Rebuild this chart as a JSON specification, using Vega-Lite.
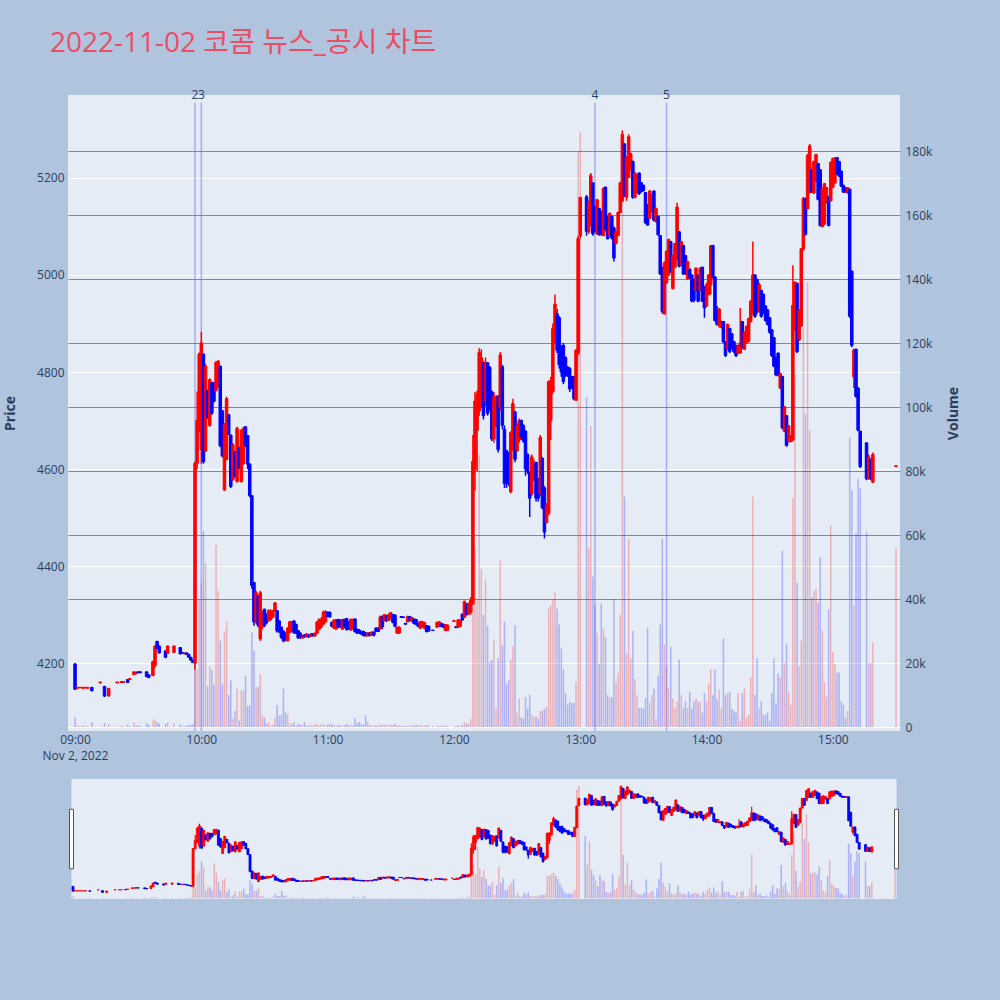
{
  "$schema": "https://vega.github.io/schema/vega-lite/v6.json",
  "background": "#b0c4de",
  "padding": {"left": 3, "top": 30, "right": 40, "bottom": 106},
  "title": {
    "text": "2022-11-02 코콤 뉴스_공시 차트",
    "anchor": "start",
    "frame": "group",
    "font": "Open Sans, Noto Sans CJK KR",
    "fontSize": 28,
    "fontWeight": "normal",
    "color": "#ec4d64",
    "dx": -18,
    "offset": 31
  },
  "config": {
    "view": {"fill": "#e5ecf6", "stroke": null},
    "font": "Open Sans",
    "axis": {
      "domain": false,
      "ticks": false,
      "labelFont": "Open Sans",
      "labelFontSize": 12,
      "labelColor": "#2a3f5f",
      "titleFont": "Open Sans",
      "titleFontSize": 14,
      "titleFontWeight": "bold",
      "titleColor": "#2a3f5f"
    }
  },
  "datasets": {
    "news": [
      {"t": "2022-11-02T09:57", "n": "2"},
      {"t": "2022-11-02T10:00", "n": "3"},
      {"t": "2022-11-02T13:07", "n": "4"},
      {"t": "2022-11-02T13:41", "n": "5"}
    ],
    "k": [
      {"t":"2022-11-02T09:00","o":4198,"h":4200,"l":4145,"c":4146,"v":3000},
      {"t":"2022-11-02T09:01","o":4148,"h":4150,"l":4148,"c":4150,"v":400},
      {"t":"2022-11-02T09:02","o":4149,"h":4150,"l":4149,"c":4150,"v":300},
      {"t":"2022-11-02T09:03","o":4149,"h":4150,"l":4149,"c":4150,"v":300},
      {"t":"2022-11-02T09:04","o":4148,"h":4150,"l":4148,"c":4150,"v":500},
      {"t":"2022-11-02T09:05","o":4149,"h":4150,"l":4149,"c":4150,"v":200},
      {"t":"2022-11-02T09:06","o":4148,"h":4150,"l":4148,"c":4150,"v":300},
      {"t":"2022-11-02T09:08","o":4150,"h":4150,"l":4142,"c":4143,"v":1500},
      {"t":"2022-11-02T09:12","o":4159,"h":4161,"l":4159,"c":4161,"v":300},
      {"t":"2022-11-02T09:14","o":4152,"h":4152,"l":4130,"c":4132,"v":1200},
      {"t":"2022-11-02T09:16","o":4132,"h":4148,"l":4132,"c":4148,"v":900},
      {"t":"2022-11-02T09:20","o":4159,"h":4161,"l":4159,"c":4161,"v":200},
      {"t":"2022-11-02T09:22","o":4160,"h":4162,"l":4160,"c":4162,"v":300},
      {"t":"2022-11-02T09:23","o":4160,"h":4162,"l":4160,"c":4162,"v":200},
      {"t":"2022-11-02T09:25","o":4166,"h":4166,"l":4160,"c":4160,"v":800},
      {"t":"2022-11-02T09:26","o":4166,"h":4168,"l":4166,"c":4168,"v":300},
      {"t":"2022-11-02T09:28","o":4176,"h":4182,"l":4176,"c":4182,"v":1500},
      {"t":"2022-11-02T09:29","o":4178,"h":4182,"l":4178,"c":4181,"v":600},
      {"t":"2022-11-02T09:30","o":4182,"h":4182,"l":4180,"c":4180,"v":400},
      {"t":"2022-11-02T09:31","o":4182,"h":4182,"l":4180,"c":4180,"v":300},
      {"t":"2022-11-02T09:34","o":4182,"h":4182,"l":4172,"c":4172,"v":1200},
      {"t":"2022-11-02T09:35","o":4176,"h":4176,"l":4170,"c":4170,"v":800},
      {"t":"2022-11-02T09:37","o":4174,"h":4205,"l":4174,"c":4203,"v":2000},
      {"t":"2022-11-02T09:38","o":4195,"h":4236,"l":4190,"c":4235,"v":2500},
      {"t":"2022-11-02T09:39","o":4245,"h":4245,"l":4229,"c":4230,"v":1500},
      {"t":"2022-11-02T09:40","o":4235,"h":4236,"l":4220,"c":4221,"v":1200},
      {"t":"2022-11-02T09:43","o":4225,"h":4226,"l":4210,"c":4212,"v":1000},
      {"t":"2022-11-02T09:44","o":4220,"h":4236,"l":4220,"c":4235,"v":1500},
      {"t":"2022-11-02T09:47","o":4222,"h":4236,"l":4222,"c":4235,"v":1200},
      {"t":"2022-11-02T09:50","o":4232,"h":4233,"l":4218,"c":4219,"v":800},
      {"t":"2022-11-02T09:51","o":4222,"h":4222,"l":4220,"c":4220,"v":300},
      {"t":"2022-11-02T09:52","o":4219,"h":4221,"l":4219,"c":4221,"v":300},
      {"t":"2022-11-02T09:53","o":4221,"h":4221,"l":4218,"c":4218,"v":400},
      {"t":"2022-11-02T09:54","o":4218,"h":4218,"l":4212,"c":4212,"v":600},
      {"t":"2022-11-02T09:55","o":4212,"h":4212,"l":4206,"c":4206,"v":700},
      {"t":"2022-11-02T09:56","o":4206,"h":4206,"l":4200,"c":4201,"v":900},
      {"t":"2022-11-02T09:57","o":4200,"h":4616,"l":4186,"c":4612,"v":30000},
      {"t":"2022-11-02T09:58","o":4612,"h":4760,"l":4600,"c":4700,"v":18000},
      {"t":"2022-11-02T09:59","o":4678,"h":4840,"l":4676,"c":4837,"v":40000},
      {"t":"2022-11-02T10:00","o":4640,"h":4883,"l":4611,"c":4860,"v":45000},
      {"t":"2022-11-02T10:01","o":4837,"h":4838,"l":4611,"c":4615,"v":61400},
      {"t":"2022-11-02T10:02","o":4637,"h":4816,"l":4635,"c":4812,"v":51300},
      {"t":"2022-11-02T10:03","o":4762,"h":4764,"l":4703,"c":4706,"v":12700},
      {"t":"2022-11-02T10:04","o":4690,"h":4787,"l":4687,"c":4784,"v":19000},
      {"t":"2022-11-02T10:05","o":4778,"h":4780,"l":4712,"c":4715,"v":17700},
      {"t":"2022-11-02T10:06","o":4778,"h":4779,"l":4737,"c":4740,"v":13300},
      {"t":"2022-11-02T10:07","o":4762,"h":4822,"l":4760,"c":4820,"v":57000},
      {"t":"2022-11-02T10:08","o":4770,"h":4825,"l":4768,"c":4822,"v":42400},
      {"t":"2022-11-02T10:09","o":4812,"h":4813,"l":4645,"c":4648,"v":27000},
      {"t":"2022-11-02T10:10","o":4720,"h":4721,"l":4624,"c":4627,"v":13300},
      {"t":"2022-11-02T10:11","o":4557,"h":4695,"l":4555,"c":4692,"v":29800},
      {"t":"2022-11-02T10:12","o":4620,"h":4749,"l":4618,"c":4745,"v":33000},
      {"t":"2022-11-02T10:13","o":4712,"h":4713,"l":4670,"c":4672,"v":10000},
      {"t":"2022-11-02T10:14","o":4670,"h":4671,"l":4561,"c":4564,"v":14600},
      {"t":"2022-11-02T10:15","o":4578,"h":4653,"l":4576,"c":4650,"v":2600},
      {"t":"2022-11-02T10:16","o":4636,"h":4637,"l":4582,"c":4585,"v":5000},
      {"t":"2022-11-02T10:17","o":4574,"h":4687,"l":4572,"c":4684,"v":12000},
      {"t":"2022-11-02T10:18","o":4645,"h":4646,"l":4599,"c":4602,"v":2000},
      {"t":"2022-11-02T10:19","o":4574,"h":4682,"l":4572,"c":4680,"v":11400},
      {"t":"2022-11-02T10:20","o":4611,"h":4687,"l":4609,"c":4684,"v":11400},
      {"t":"2022-11-02T10:21","o":4687,"h":4688,"l":4645,"c":4648,"v":15900},
      {"t":"2022-11-02T10:22","o":4669,"h":4670,"l":4600,"c":4610,"v":6700},
      {"t":"2022-11-02T10:23","o":4610,"h":4612,"l":4542,"c":4545,"v":6700},
      {"t":"2022-11-02T10:24","o":4545,"h":4546,"l":4353,"c":4360,"v":29600},
      {"t":"2022-11-02T10:25","o":4366,"h":4367,"l":4277,"c":4285,"v":23900},
      {"t":"2022-11-02T10:26","o":4285,"h":4349,"l":4281,"c":4345,"v":12400},
      {"t":"2022-11-02T10:27","o":4339,"h":4340,"l":4274,"c":4278,"v":12400},
      {"t":"2022-11-02T10:28","o":4250,"h":4349,"l":4246,"c":4345,"v":16600},
      {"t":"2022-11-02T10:29","o":4275,"h":4308,"l":4270,"c":4305,"v":3500},
      {"t":"2022-11-02T10:30","o":4311,"h":4312,"l":4274,"c":4278,"v":3000},
      {"t":"2022-11-02T10:31","o":4300,"h":4302,"l":4280,"c":4284,"v":1000},
      {"t":"2022-11-02T10:32","o":4287,"h":4311,"l":4286,"c":4308,"v":1500},
      {"t":"2022-11-02T10:33","o":4290,"h":4311,"l":4288,"c":4306,"v":400},
      {"t":"2022-11-02T10:34","o":4295,"h":4310,"l":4293,"c":4308,"v":800},
      {"t":"2022-11-02T10:35","o":4308,"h":4326,"l":4307,"c":4324,"v":3000},
      {"t":"2022-11-02T10:36","o":4308,"h":4309,"l":4263,"c":4266,"v":6900},
      {"t":"2022-11-02T10:37","o":4287,"h":4288,"l":4262,"c":4265,"v":3500},
      {"t":"2022-11-02T10:38","o":4274,"h":4275,"l":4250,"c":4253,"v":3800},
      {"t":"2022-11-02T10:39","o":4266,"h":4267,"l":4243,"c":4246,"v":12000},
      {"t":"2022-11-02T10:40","o":4262,"h":4263,"l":4245,"c":4248,"v":4600},
      {"t":"2022-11-02T10:41","o":4246,"h":4274,"l":4245,"c":4272,"v":4000},
      {"t":"2022-11-02T10:42","o":4263,"h":4287,"l":4262,"c":4285,"v":1000},
      {"t":"2022-11-02T10:43","o":4265,"h":4287,"l":4264,"c":4284,"v":1000},
      {"t":"2022-11-02T10:44","o":4287,"h":4288,"l":4260,"c":4263,"v":1500},
      {"t":"2022-11-02T10:45","o":4280,"h":4281,"l":4260,"c":4262,"v":400},
      {"t":"2022-11-02T10:46","o":4267,"h":4268,"l":4250,"c":4252,"v":1000},
      {"t":"2022-11-02T10:47","o":4262,"h":4263,"l":4250,"c":4253,"v":800},
      {"t":"2022-11-02T10:48","o":4252,"h":4258,"l":4250,"c":4256,"v":600},
      {"t":"2022-11-02T10:49","o":4258,"h":4260,"l":4252,"c":4254,"v":1500},
      {"t":"2022-11-02T10:50","o":4254,"h":4262,"l":4253,"c":4260,"v":500},
      {"t":"2022-11-02T10:51","o":4258,"h":4260,"l":4252,"c":4254,"v":400},
      {"t":"2022-11-02T10:52","o":4256,"h":4262,"l":4254,"c":4260,"v":700},
      {"t":"2022-11-02T10:53","o":4260,"h":4262,"l":4255,"c":4256,"v":400},
      {"t":"2022-11-02T10:54","o":4256,"h":4263,"l":4255,"c":4262,"v":1000},
      {"t":"2022-11-02T10:55","o":4262,"h":4287,"l":4260,"c":4285,"v":900},
      {"t":"2022-11-02T10:56","o":4270,"h":4292,"l":4268,"c":4290,"v":400},
      {"t":"2022-11-02T10:57","o":4275,"h":4295,"l":4272,"c":4290,"v":800},
      {"t":"2022-11-02T10:58","o":4280,"h":4308,"l":4280,"c":4305,"v":1000},
      {"t":"2022-11-02T10:59","o":4285,"h":4309,"l":4283,"c":4306,"v":400},
      {"t":"2022-11-02T11:00","o":4305,"h":4306,"l":4294,"c":4296,"v":700},
      {"t":"2022-11-02T11:01","o":4305,"h":4306,"l":4294,"c":4295,"v":1000},
      {"t":"2022-11-02T11:02","o":4284,"h":4285,"l":4274,"c":4276,"v":800},
      {"t":"2022-11-02T11:03","o":4272,"h":4291,"l":4270,"c":4288,"v":600},
      {"t":"2022-11-02T11:04","o":4270,"h":4291,"l":4270,"c":4289,"v":500},
      {"t":"2022-11-02T11:05","o":4290,"h":4291,"l":4272,"c":4274,"v":700},
      {"t":"2022-11-02T11:06","o":4288,"h":4290,"l":4273,"c":4275,"v":400},
      {"t":"2022-11-02T11:07","o":4270,"h":4291,"l":4268,"c":4290,"v":500},
      {"t":"2022-11-02T11:08","o":4290,"h":4291,"l":4272,"c":4275,"v":600},
      {"t":"2022-11-02T11:09","o":4292,"h":4293,"l":4267,"c":4270,"v":1000},
      {"t":"2022-11-02T11:10","o":4285,"h":4286,"l":4268,"c":4270,"v":500},
      {"t":"2022-11-02T11:11","o":4268,"h":4292,"l":4268,"c":4290,"v":700},
      {"t":"2022-11-02T11:12","o":4270,"h":4292,"l":4270,"c":4288,"v":500},
      {"t":"2022-11-02T11:13","o":4291,"h":4291,"l":4263,"c":4265,"v":2700},
      {"t":"2022-11-02T11:14","o":4270,"h":4271,"l":4260,"c":4262,"v":1200},
      {"t":"2022-11-02T11:15","o":4268,"h":4270,"l":4260,"c":4262,"v":1500},
      {"t":"2022-11-02T11:16","o":4265,"h":4267,"l":4258,"c":4260,"v":1000},
      {"t":"2022-11-02T11:17","o":4265,"h":4267,"l":4255,"c":4257,"v":800},
      {"t":"2022-11-02T11:18","o":4262,"h":4264,"l":4255,"c":4256,"v":3700},
      {"t":"2022-11-02T11:19","o":4256,"h":4264,"l":4255,"c":4262,"v":1800},
      {"t":"2022-11-02T11:20","o":4262,"h":4264,"l":4255,"c":4257,"v":600},
      {"t":"2022-11-02T11:21","o":4257,"h":4265,"l":4256,"c":4264,"v":500},
      {"t":"2022-11-02T11:22","o":4264,"h":4265,"l":4255,"c":4258,"v":400},
      {"t":"2022-11-02T11:23","o":4272,"h":4274,"l":4264,"c":4266,"v":500},
      {"t":"2022-11-02T11:24","o":4272,"h":4274,"l":4264,"c":4265,"v":400},
      {"t":"2022-11-02T11:25","o":4270,"h":4298,"l":4270,"c":4295,"v":800},
      {"t":"2022-11-02T11:26","o":4296,"h":4298,"l":4270,"c":4275,"v":600},
      {"t":"2022-11-02T11:27","o":4287,"h":4301,"l":4286,"c":4300,"v":700},
      {"t":"2022-11-02T11:28","o":4298,"h":4299,"l":4285,"c":4287,"v":500},
      {"t":"2022-11-02T11:29","o":4288,"h":4302,"l":4287,"c":4300,"v":600},
      {"t":"2022-11-02T11:30","o":4291,"h":4305,"l":4290,"c":4304,"v":800},
      {"t":"2022-11-02T11:31","o":4300,"h":4301,"l":4282,"c":4284,"v":500},
      {"t":"2022-11-02T11:32","o":4299,"h":4300,"l":4274,"c":4276,"v":900},
      {"t":"2022-11-02T11:33","o":4262,"h":4275,"l":4260,"c":4274,"v":600},
      {"t":"2022-11-02T11:34","o":4262,"h":4276,"l":4260,"c":4274,"v":500},
      {"t":"2022-11-02T11:35","o":4296,"h":4296,"l":4294,"c":4294,"v":300},
      {"t":"2022-11-02T11:36","o":4295,"h":4296,"l":4294,"c":4294,"v":300},
      {"t":"2022-11-02T11:37","o":4282,"h":4282,"l":4280,"c":4280,"v":200},
      {"t":"2022-11-02T11:38","o":4285,"h":4298,"l":4284,"c":4296,"v":500},
      {"t":"2022-11-02T11:39","o":4296,"h":4297,"l":4286,"c":4288,"v":400},
      {"t":"2022-11-02T11:40","o":4286,"h":4295,"l":4285,"c":4294,"v":400},
      {"t":"2022-11-02T11:41","o":4291,"h":4291,"l":4280,"c":4282,"v":500},
      {"t":"2022-11-02T11:42","o":4290,"h":4291,"l":4278,"c":4280,"v":600},
      {"t":"2022-11-02T11:43","o":4282,"h":4283,"l":4274,"c":4276,"v":400},
      {"t":"2022-11-02T11:44","o":4272,"h":4287,"l":4270,"c":4286,"v":600},
      {"t":"2022-11-02T11:45","o":4275,"h":4287,"l":4274,"c":4285,"v":500},
      {"t":"2022-11-02T11:46","o":4272,"h":4285,"l":4270,"c":4284,"v":400},
      {"t":"2022-11-02T11:47","o":4277,"h":4278,"l":4263,"c":4265,"v":700},
      {"t":"2022-11-02T11:48","o":4276,"h":4277,"l":4265,"c":4266,"v":300},
      {"t":"2022-11-02T11:50","o":4268,"h":4268,"l":4266,"c":4267,"v":200},
      {"t":"2022-11-02T11:52","o":4274,"h":4285,"l":4274,"c":4284,"v":400},
      {"t":"2022-11-02T11:53","o":4276,"h":4286,"l":4275,"c":4285,"v":300},
      {"t":"2022-11-02T11:54","o":4282,"h":4283,"l":4274,"c":4276,"v":400},
      {"t":"2022-11-02T11:55","o":4280,"h":4281,"l":4272,"c":4274,"v":300},
      {"t":"2022-11-02T11:56","o":4267,"h":4280,"l":4267,"c":4279,"v":500},
      {"t":"2022-11-02T11:57","o":4268,"h":4280,"l":4267,"c":4278,"v":400},
      {"t":"2022-11-02T12:00","o":4286,"h":4288,"l":4286,"c":4288,"v":200},
      {"t":"2022-11-02T12:01","o":4275,"h":4275,"l":4273,"c":4273,"v":200},
      {"t":"2022-11-02T12:02","o":4274,"h":4291,"l":4273,"c":4289,"v":500},
      {"t":"2022-11-02T12:03","o":4276,"h":4290,"l":4275,"c":4288,"v":400},
      {"t":"2022-11-02T12:04","o":4301,"h":4302,"l":4287,"c":4289,"v":600},
      {"t":"2022-11-02T12:05","o":4294,"h":4329,"l":4294,"c":4327,"v":1500},
      {"t":"2022-11-02T12:06","o":4322,"h":4323,"l":4298,"c":4300,"v":1000},
      {"t":"2022-11-02T12:07","o":4301,"h":4325,"l":4300,"c":4322,"v":1200},
      {"t":"2022-11-02T12:08","o":4305,"h":4336,"l":4300,"c":4330,"v":2500},
      {"t":"2022-11-02T12:09","o":4322,"h":4670,"l":4320,"c":4616,"v":45000},
      {"t":"2022-11-02T12:10","o":4600,"h":4759,"l":4555,"c":4740,"v":56000},
      {"t":"2022-11-02T12:11","o":4680,"h":4762,"l":4595,"c":4755,"v":40000},
      {"t":"2022-11-02T12:12","o":4720,"h":4849,"l":4710,"c":4840,"v":85000},
      {"t":"2022-11-02T12:13","o":4740,"h":4847,"l":4726,"c":4830,"v":49400},
      {"t":"2022-11-02T12:14","o":4819,"h":4822,"l":4702,"c":4710,"v":35000},
      {"t":"2022-11-02T12:15","o":4740,"h":4830,"l":4730,"c":4820,"v":46000},
      {"t":"2022-11-02T12:16","o":4819,"h":4820,"l":4710,"c":4715,"v":31700},
      {"t":"2022-11-02T12:17","o":4810,"h":4812,"l":4720,"c":4725,"v":20300},
      {"t":"2022-11-02T12:18","o":4759,"h":4762,"l":4658,"c":4662,"v":21000},
      {"t":"2022-11-02T12:19","o":4662,"h":4759,"l":4654,"c":4750,"v":27300},
      {"t":"2022-11-02T12:20","o":4690,"h":4752,"l":4686,"c":4745,"v":5700},
      {"t":"2022-11-02T12:21","o":4750,"h":4752,"l":4634,"c":4640,"v":21500},
      {"t":"2022-11-02T12:22","o":4726,"h":4841,"l":4720,"c":4835,"v":52000},
      {"t":"2022-11-02T12:23","o":4811,"h":4815,"l":4682,"c":4690,"v":25300},
      {"t":"2022-11-02T12:24","o":4682,"h":4690,"l":4561,"c":4570,"v":33000},
      {"t":"2022-11-02T12:25","o":4638,"h":4640,"l":4561,"c":4570,"v":13300},
      {"t":"2022-11-02T12:26","o":4630,"h":4635,"l":4565,"c":4572,"v":14600},
      {"t":"2022-11-02T12:27","o":4553,"h":4678,"l":4550,"c":4675,"v":21000},
      {"t":"2022-11-02T12:28","o":4646,"h":4745,"l":4637,"c":4735,"v":25300},
      {"t":"2022-11-02T12:29","o":4718,"h":4720,"l":4614,"c":4620,"v":31700},
      {"t":"2022-11-02T12:30","o":4638,"h":4694,"l":4635,"c":4690,"v":4500},
      {"t":"2022-11-02T12:31","o":4660,"h":4704,"l":4654,"c":4700,"v":8900},
      {"t":"2022-11-02T12:32","o":4700,"h":4702,"l":4660,"c":4665,"v":3000},
      {"t":"2022-11-02T12:33","o":4690,"h":4692,"l":4654,"c":4658,"v":2600},
      {"t":"2022-11-02T12:34","o":4678,"h":4680,"l":4586,"c":4600,"v":9300},
      {"t":"2022-11-02T12:35","o":4630,"h":4632,"l":4590,"c":4595,"v":5700},
      {"t":"2022-11-02T12:36","o":4594,"h":4594,"l":4501,"c":4540,"v":10000},
      {"t":"2022-11-02T12:37","o":4549,"h":4630,"l":4545,"c":4625,"v":3800},
      {"t":"2022-11-02T12:38","o":4580,"h":4620,"l":4575,"c":4610,"v":3000},
      {"t":"2022-11-02T12:39","o":4614,"h":4614,"l":4533,"c":4540,"v":3200},
      {"t":"2022-11-02T12:40","o":4580,"h":4582,"l":4533,"c":4540,"v":2600},
      {"t":"2022-11-02T12:41","o":4549,"h":4670,"l":4545,"c":4665,"v":5000},
      {"t":"2022-11-02T12:42","o":4622,"h":4625,"l":4517,"c":4520,"v":5000},
      {"t":"2022-11-02T12:43","o":4561,"h":4565,"l":4457,"c":4470,"v":5700},
      {"t":"2022-11-02T12:44","o":4490,"h":4530,"l":4488,"c":4525,"v":6300},
      {"t":"2022-11-02T12:45","o":4509,"h":4783,"l":4505,"c":4780,"v":37000},
      {"t":"2022-11-02T12:46","o":4700,"h":4790,"l":4660,"c":4780,"v":38000},
      {"t":"2022-11-02T12:47","o":4760,"h":4900,"l":4755,"c":4890,"v":40000},
      {"t":"2022-11-02T12:48","o":4871,"h":4960,"l":4860,"c":4940,"v":42000},
      {"t":"2022-11-02T12:49","o":4920,"h":4930,"l":4839,"c":4845,"v":37000},
      {"t":"2022-11-02T12:50","o":4912,"h":4915,"l":4807,"c":4815,"v":32000},
      {"t":"2022-11-02T12:51","o":4850,"h":4855,"l":4790,"c":4800,"v":24600},
      {"t":"2022-11-02T12:52","o":4855,"h":4860,"l":4775,"c":4780,"v":18000},
      {"t":"2022-11-02T12:53","o":4830,"h":4832,"l":4790,"c":4795,"v":10600},
      {"t":"2022-11-02T12:54","o":4810,"h":4812,"l":4790,"c":4792,"v":7000},
      {"t":"2022-11-02T12:55","o":4807,"h":4810,"l":4759,"c":4765,"v":8000},
      {"t":"2022-11-02T12:56","o":4790,"h":4792,"l":4765,"c":4768,"v":7500},
      {"t":"2022-11-02T12:57","o":4791,"h":4791,"l":4742,"c":4745,"v":7500},
      {"t":"2022-11-02T12:58","o":4742,"h":4847,"l":4740,"c":4845,"v":14000},
      {"t":"2022-11-02T12:59","o":4839,"h":5081,"l":4835,"c":5075,"v":180000},
      {"t":"2022-11-02T13:00","o":5081,"h":5161,"l":5075,"c":5160,"v":186000},
      {"t":"2022-11-02T13:03","o":5161,"h":5165,"l":5081,"c":5090,"v":103000},
      {"t":"2022-11-02T13:04","o":5089,"h":5153,"l":5085,"c":5150,"v":56000},
      {"t":"2022-11-02T13:05","o":5105,"h":5210,"l":5100,"c":5205,"v":94000},
      {"t":"2022-11-02T13:06","o":5190,"h":5190,"l":5081,"c":5085,"v":47000},
      {"t":"2022-11-02T13:07","o":5140,"h":5142,"l":5088,"c":5090,"v":38000},
      {"t":"2022-11-02T13:08","o":5085,"h":5157,"l":5083,"c":5155,"v":29500},
      {"t":"2022-11-02T13:09","o":5137,"h":5138,"l":5081,"c":5083,"v":19700},
      {"t":"2022-11-02T13:10","o":5130,"h":5132,"l":5081,"c":5085,"v":38600},
      {"t":"2022-11-02T13:11","o":5081,"h":5181,"l":5080,"c":5178,"v":30700},
      {"t":"2022-11-02T13:12","o":5181,"h":5182,"l":5090,"c":5095,"v":28000},
      {"t":"2022-11-02T13:13","o":5121,"h":5122,"l":5073,"c":5075,"v":10000},
      {"t":"2022-11-02T13:14","o":5081,"h":5129,"l":5080,"c":5127,"v":9300},
      {"t":"2022-11-02T13:15","o":5121,"h":5122,"l":5073,"c":5076,"v":9300},
      {"t":"2022-11-02T13:16","o":5097,"h":5100,"l":5028,"c":5035,"v":40000},
      {"t":"2022-11-02T13:17","o":5065,"h":5091,"l":5063,"c":5089,"v":14000},
      {"t":"2022-11-02T13:18","o":5081,"h":5131,"l":5080,"c":5129,"v":17000},
      {"t":"2022-11-02T13:19","o":5129,"h":5192,"l":5127,"c":5190,"v":35000},
      {"t":"2022-11-02T13:20","o":5153,"h":5298,"l":5150,"c":5290,"v":185700},
      {"t":"2022-11-02T13:21","o":5270,"h":5272,"l":5161,"c":5165,"v":72000},
      {"t":"2022-11-02T13:22","o":5160,"h":5245,"l":5153,"c":5242,"v":23000},
      {"t":"2022-11-02T13:23","o":5201,"h":5290,"l":5200,"c":5285,"v":58800},
      {"t":"2022-11-02T13:24","o":5218,"h":5252,"l":5216,"c":5250,"v":21500},
      {"t":"2022-11-02T13:25","o":5234,"h":5236,"l":5157,"c":5160,"v":30000},
      {"t":"2022-11-02T13:26","o":5160,"h":5212,"l":5158,"c":5210,"v":15000},
      {"t":"2022-11-02T13:27","o":5170,"h":5207,"l":5168,"c":5205,"v":10000},
      {"t":"2022-11-02T13:28","o":5210,"h":5211,"l":5165,"c":5168,"v":6000},
      {"t":"2022-11-02T13:29","o":5190,"h":5191,"l":5170,"c":5172,"v":6000},
      {"t":"2022-11-02T13:30","o":5185,"h":5186,"l":5172,"c":5174,"v":5700},
      {"t":"2022-11-02T13:31","o":5170,"h":5171,"l":5105,"c":5108,"v":9000},
      {"t":"2022-11-02T13:32","o":5145,"h":5146,"l":5101,"c":5103,"v":31000},
      {"t":"2022-11-02T13:33","o":5117,"h":5175,"l":5115,"c":5173,"v":7500},
      {"t":"2022-11-02T13:34","o":5130,"h":5167,"l":5128,"c":5165,"v":10000},
      {"t":"2022-11-02T13:35","o":5173,"h":5174,"l":5110,"c":5113,"v":12000},
      {"t":"2022-11-02T13:36","o":5110,"h":5139,"l":5108,"c":5137,"v":2600},
      {"t":"2022-11-02T13:37","o":5121,"h":5122,"l":5081,"c":5083,"v":16000},
      {"t":"2022-11-02T13:38","o":5081,"h":5082,"l":5000,"c":5002,"v":32000},
      {"t":"2022-11-02T13:39","o":5016,"h":5017,"l":4920,"c":4925,"v":58800},
      {"t":"2022-11-02T13:40","o":4920,"h":5028,"l":4918,"c":5025,"v":25800},
      {"t":"2022-11-02T13:41","o":4984,"h":5051,"l":4982,"c":5049,"v":19000},
      {"t":"2022-11-02T13:42","o":5000,"h":5075,"l":4998,"c":5073,"v":12000},
      {"t":"2022-11-02T13:43","o":5069,"h":5070,"l":5004,"c":5006,"v":25000},
      {"t":"2022-11-02T13:44","o":4972,"h":5042,"l":4970,"c":5040,"v":9000},
      {"t":"2022-11-02T13:45","o":5016,"h":5066,"l":5015,"c":5065,"v":6000},
      {"t":"2022-11-02T13:46","o":5032,"h":5149,"l":5030,"c":5140,"v":8000},
      {"t":"2022-11-02T13:47","o":5089,"h":5090,"l":5016,"c":5018,"v":21000},
      {"t":"2022-11-02T13:48","o":5020,"h":5070,"l":5018,"c":5069,"v":10000},
      {"t":"2022-11-02T13:49","o":5061,"h":5062,"l":5000,"c":5002,"v":6000},
      {"t":"2022-11-02T13:50","o":5040,"h":5041,"l":5000,"c":5003,"v":8000},
      {"t":"2022-11-02T13:51","o":4992,"h":5029,"l":4990,"c":5028,"v":6000},
      {"t":"2022-11-02T13:52","o":5012,"h":5013,"l":4992,"c":4994,"v":11000},
      {"t":"2022-11-02T13:53","o":5000,"h":5001,"l":4944,"c":4946,"v":5700},
      {"t":"2022-11-02T13:54","o":4990,"h":4992,"l":4944,"c":4948,"v":8000},
      {"t":"2022-11-02T13:55","o":4968,"h":5016,"l":4966,"c":5014,"v":9000},
      {"t":"2022-11-02T13:56","o":5000,"h":5001,"l":4944,"c":4946,"v":8000},
      {"t":"2022-11-02T13:57","o":4968,"h":5016,"l":4966,"c":5014,"v":8000},
      {"t":"2022-11-02T13:58","o":5016,"h":5017,"l":4944,"c":4946,"v":4500},
      {"t":"2022-11-02T13:59","o":4976,"h":4977,"l":4912,"c":4932,"v":10600},
      {"t":"2022-11-02T14:00","o":4936,"h":4984,"l":4934,"c":4980,"v":8000},
      {"t":"2022-11-02T14:01","o":4960,"h":5002,"l":4958,"c":5000,"v":13600},
      {"t":"2022-11-02T14:02","o":4980,"h":5062,"l":4960,"c":5060,"v":18000},
      {"t":"2022-11-02T14:03","o":5061,"h":5062,"l":4992,"c":4995,"v":9900},
      {"t":"2022-11-02T14:04","o":4996,"h":4997,"l":4904,"c":4906,"v":18000},
      {"t":"2022-11-02T14:05","o":4928,"h":4936,"l":4896,"c":4898,"v":8700},
      {"t":"2022-11-02T14:06","o":4896,"h":4932,"l":4891,"c":4930,"v":11800},
      {"t":"2022-11-02T14:07","o":4892,"h":4906,"l":4890,"c":4904,"v":5700},
      {"t":"2022-11-02T14:08","o":4904,"h":4905,"l":4860,"c":4862,"v":27600},
      {"t":"2022-11-02T14:09","o":4862,"h":4863,"l":4831,"c":4834,"v":10000},
      {"t":"2022-11-02T14:10","o":4847,"h":4900,"l":4845,"c":4898,"v":10600},
      {"t":"2022-11-02T14:11","o":4890,"h":4891,"l":4839,"c":4842,"v":11000},
      {"t":"2022-11-02T14:12","o":4879,"h":4880,"l":4847,"c":4850,"v":5700},
      {"t":"2022-11-02T14:13","o":4863,"h":4864,"l":4839,"c":4842,"v":5000},
      {"t":"2022-11-02T14:14","o":4855,"h":4856,"l":4831,"c":4834,"v":4500},
      {"t":"2022-11-02T14:15","o":4839,"h":4856,"l":4838,"c":4855,"v":10600},
      {"t":"2022-11-02T14:16","o":4839,"h":4932,"l":4838,"c":4860,"v":2000},
      {"t":"2022-11-02T14:17","o":4904,"h":4905,"l":4847,"c":4850,"v":10600},
      {"t":"2022-11-02T14:18","o":4847,"h":4884,"l":4845,"c":4882,"v":12000},
      {"t":"2022-11-02T14:19","o":4860,"h":4896,"l":4858,"c":4894,"v":3000},
      {"t":"2022-11-02T14:20","o":4863,"h":4912,"l":4861,"c":4910,"v":3800},
      {"t":"2022-11-02T14:21","o":4904,"h":4948,"l":4902,"c":4946,"v":15400},
      {"t":"2022-11-02T14:22","o":4920,"h":5069,"l":4918,"c":5000,"v":72000},
      {"t":"2022-11-02T14:23","o":5000,"h":5001,"l":4912,"c":4915,"v":10000},
      {"t":"2022-11-02T14:24","o":4990,"h":4992,"l":4920,"c":4925,"v":21500},
      {"t":"2022-11-02T14:25","o":4925,"h":4984,"l":4922,"c":4980,"v":5700},
      {"t":"2022-11-02T14:26","o":4968,"h":4970,"l":4912,"c":4915,"v":8000},
      {"t":"2022-11-02T14:27","o":4960,"h":4962,"l":4920,"c":4925,"v":3800},
      {"t":"2022-11-02T14:28","o":4936,"h":4938,"l":4904,"c":4906,"v":3800},
      {"t":"2022-11-02T14:29","o":4928,"h":4930,"l":4896,"c":4898,"v":4500},
      {"t":"2022-11-02T14:30","o":4912,"h":4913,"l":4879,"c":4882,"v":2000},
      {"t":"2022-11-02T14:31","o":4887,"h":4888,"l":4831,"c":4834,"v":10600},
      {"t":"2022-11-02T14:32","o":4871,"h":4872,"l":4810,"c":4812,"v":21500},
      {"t":"2022-11-02T14:33","o":4830,"h":4831,"l":4791,"c":4794,"v":7500},
      {"t":"2022-11-02T14:34","o":4839,"h":4840,"l":4791,"c":4794,"v":16700},
      {"t":"2022-11-02T14:35","o":4767,"h":4799,"l":4765,"c":4797,"v":15400},
      {"t":"2022-11-02T14:36","o":4791,"h":4792,"l":4682,"c":4685,"v":55000},
      {"t":"2022-11-02T14:37","o":4678,"h":4730,"l":4676,"c":4728,"v":20000},
      {"t":"2022-11-02T14:38","o":4710,"h":4711,"l":4646,"c":4649,"v":25800},
      {"t":"2022-11-02T14:39","o":4657,"h":4691,"l":4655,"c":4689,"v":11000},
      {"t":"2022-11-02T14:40","o":4657,"h":4670,"l":4655,"c":4668,"v":6900},
      {"t":"2022-11-02T14:41","o":4660,"h":5020,"l":4657,"c":4937,"v":71600},
      {"t":"2022-11-02T14:42","o":4887,"h":4987,"l":4885,"c":4985,"v":110000},
      {"t":"2022-11-02T14:43","o":4983,"h":4984,"l":4839,"c":4842,"v":45000},
      {"t":"2022-11-02T14:44","o":4866,"h":4930,"l":4864,"c":4928,"v":19000},
      {"t":"2022-11-02T14:45","o":4895,"h":5055,"l":4893,"c":5054,"v":27000},
      {"t":"2022-11-02T14:46","o":5054,"h":5161,"l":5050,"c":5158,"v":125000},
      {"t":"2022-11-02T14:47","o":5158,"h":5159,"l":5081,"c":5084,"v":98000},
      {"t":"2022-11-02T14:48","o":5137,"h":5250,"l":5135,"c":5246,"v":139000},
      {"t":"2022-11-02T14:49","o":5170,"h":5270,"l":5168,"c":5266,"v":92700},
      {"t":"2022-11-02T14:50","o":5218,"h":5219,"l":5169,"c":5171,"v":40500},
      {"t":"2022-11-02T14:51","o":5169,"h":5236,"l":5167,"c":5234,"v":42400},
      {"t":"2022-11-02T14:52","o":5193,"h":5250,"l":5191,"c":5248,"v":43000},
      {"t":"2022-11-02T14:53","o":5230,"h":5231,"l":5154,"c":5156,"v":39000},
      {"t":"2022-11-02T14:54","o":5217,"h":5218,"l":5100,"c":5102,"v":53000},
      {"t":"2022-11-02T14:55","o":5100,"h":5180,"l":5098,"c":5179,"v":30000},
      {"t":"2022-11-02T14:56","o":5105,"h":5190,"l":5103,"c":5188,"v":14000},
      {"t":"2022-11-02T14:57","o":5149,"h":5181,"l":5147,"c":5180,"v":9500},
      {"t":"2022-11-02T14:58","o":5161,"h":5162,"l":5100,"c":5102,"v":36700},
      {"t":"2022-11-02T14:59","o":5153,"h":5234,"l":5151,"c":5232,"v":63000},
      {"t":"2022-11-02T15:00","o":5181,"h":5242,"l":5179,"c":5240,"v":23400},
      {"t":"2022-11-02T15:01","o":5190,"h":5243,"l":5188,"c":5240,"v":19700},
      {"t":"2022-11-02T15:02","o":5242,"h":5243,"l":5206,"c":5208,"v":17000},
      {"t":"2022-11-02T15:03","o":5234,"h":5235,"l":5202,"c":5204,"v":17000},
      {"t":"2022-11-02T15:04","o":5214,"h":5215,"l":5181,"c":5183,"v":8000},
      {"t":"2022-11-02T15:05","o":5185,"h":5186,"l":5169,"c":5171,"v":7000},
      {"t":"2022-11-02T15:06","o":5180,"h":5181,"l":5169,"c":5171,"v":3000},
      {"t":"2022-11-02T15:07","o":5169,"h":5181,"l":5168,"c":5180,"v":5000},
      {"t":"2022-11-02T15:08","o":5177,"h":5178,"l":4912,"c":4915,"v":90500},
      {"t":"2022-11-02T15:09","o":5008,"h":5009,"l":4851,"c":4855,"v":74000},
      {"t":"2022-11-02T15:10","o":4790,"h":4848,"l":4767,"c":4845,"v":38000},
      {"t":"2022-11-02T15:11","o":4847,"h":4848,"l":4747,"c":4750,"v":60600},
      {"t":"2022-11-02T15:12","o":4767,"h":4768,"l":4678,"c":4680,"v":77700},
      {"t":"2022-11-02T15:13","o":4678,"h":4679,"l":4602,"c":4605,"v":74600},
      {"t":"2022-11-02T15:16","o":4654,"h":4655,"l":4577,"c":4580,"v":61000},
      {"t":"2022-11-02T15:17","o":4580,"h":4630,"l":4578,"c":4625,"v":20000},
      {"t":"2022-11-02T15:18","o":4620,"h":4621,"l":4577,"c":4580,"v":20000},
      {"t":"2022-11-02T15:19","o":4573,"h":4634,"l":4571,"c":4630,"v":26400},
      {"t":"2022-11-02T15:30","o":4605,"h":4607,"l":4605,"c":4607,"v":55700}
    ]
  },
  "vconcat": [
    {
      "width": 832,
      "height": 636,
      "layer": [
        {
          "data": {"name": "k"},
          "mark": {"type": "bar", "width": 1.5, "opacity": 0.25},
          "encoding": {
            "x": {
              "field": "t",
              "type": "temporal",
              "title": null,
              "scale": {"nice": false, "padding": 0, "domain": [
                {"year": 2022, "month": 11, "date": 2, "hours": 8, "minutes": 56, "seconds": 40},
                {"year": 2022, "month": 11, "date": 2, "hours": 15, "minutes": 31, "seconds": 54}
              ]},
              "axis": {
                "grid": false,
                "labelFlush": false,
                "labelPadding": 3,
                "labelLineHeight": 16,
                "values": [
                  {"year": 2022, "month": 11, "date": 2, "hours": 9},
                  {"year": 2022, "month": 11, "date": 2, "hours": 10},
                  {"year": 2022, "month": 11, "date": 2, "hours": 11},
                  {"year": 2022, "month": 11, "date": 2, "hours": 12},
                  {"year": 2022, "month": 11, "date": 2, "hours": 13},
                  {"year": 2022, "month": 11, "date": 2, "hours": 14},
                  {"year": 2022, "month": 11, "date": 2, "hours": 15}
                ],
                "labelExpr": "hours(datum.value) === 9 ? ['09:00', 'Nov 2, 2022'] : timeFormat(datum.value, '%H:%M')"
              }
            },
            "y": {
              "field": "v",
              "type": "quantitative",
              "scale": {"domain": [-1250, 197500], "nice": false, "zero": false},
              "axis": {
                "orient": "right",
                "title": "Volume",
                "values": [0, 20000, 40000, 60000, 80000, 100000, 120000, 140000, 160000, 180000],
                "labelExpr": "datum.value === 0 ? '0' : (datum.value / 1000) + 'k'",
                "grid": true,
                "gridColor": {"condition": {"test": "datum.value === 0", "value": "white"}, "value": "#888888"},
                "gridWidth": 1,
                "labelPadding": 5,
                "titleAngle": 270,
                "titleAlign": "center",
                "titleBaseline": "middle",
                "titleX": 53,
                "titleY": 318
              }
            },
            "color": {"condition": {"test": "datum.c >= datum.o", "value": "#ff0000"}, "value": "#0000ff"}
          }
        },
        {
          "layer": [
            {
              "data": {"name": "news"},
              "mark": {"type": "rule", "color": "#636efa", "opacity": 0.5, "strokeWidth": 1.5},
              "encoding": {
                "x": {"field": "t", "type": "temporal"},
                "y": {"datum": 5355, "type": "quantitative"},
                "y2": {"datum": 4060}
              }
            },
            {
              "data": {"name": "news"},
              "mark": {"type": "text", "baseline": "middle", "fontSize": 12, "color": "#2a3f5f", "font": "Open Sans"},
              "encoding": {
                "x": {"field": "t", "type": "temporal"},
                "y": {"datum": 5371, "type": "quantitative"},
                "text": {"field": "n"}
              }
            },
            {
              "data": {"name": "k"},
              "mark": {"type": "rule", "strokeWidth": 1.5},
              "encoding": {
                "x": {"field": "t", "type": "temporal"},
                "y": {
                  "field": "l",
                  "type": "quantitative",
                  "scale": {"domain": [4060, 5371], "nice": false, "zero": false},
                  "axis": {
                    "orient": "left",
                    "title": "Price",
                    "values": [4200, 4400, 4600, 4800, 5000, 5200],
                    "format": "d",
                    "grid": true,
                    "gridColor": "white",
                    "gridWidth": 1,
                    "labelPadding": 4,
                    "titleAngle": 270,
                    "titleAlign": "center",
                    "titleBaseline": "middle",
                    "titleX": -58,
                    "titleY": 318
                  }
                },
                "y2": {"field": "h"},
                "color": {"condition": {"test": "datum.c >= datum.o", "value": "#ff0000"}, "value": "#0000ff"}
              }
            },
            {
              "data": {"name": "k"},
              "mark": {"type": "bar", "width": 2.5, "strokeWidth": 1},
              "encoding": {
                "x": {"field": "t", "type": "temporal"},
                "y": {"field": "o", "type": "quantitative"},
                "y2": {"field": "c"},
                "color": {"condition": {"test": "datum.c >= datum.o", "value": "#ff0000"}, "value": "#0000ff"},
                "stroke": {"condition": {"test": "datum.c >= datum.o", "value": "#ff0000"}, "value": "#0000ff"}
              }
            }
          ]
        }
      ],
      "resolve": {"scale": {"y": "independent"}}
    },
    {
      "width": 825,
      "height": 120,
      "layer": [
        {
          "data": {"name": "k"},
          "mark": {"type": "bar", "width": 1.5, "opacity": 0.25},
          "encoding": {
            "x": {
              "field": "t",
              "type": "temporal",
              "axis": null,
              "scale": {"nice": false, "padding": 0, "domain": [
                {"year": 2022, "month": 11, "date": 2, "hours": 8, "minutes": 59, "seconds": 18},
                {"year": 2022, "month": 11, "date": 2, "hours": 15, "minutes": 30, "seconds": 42}
              ]}
            },
            "y": {
              "field": "v",
              "type": "quantitative",
              "axis": null,
              "scale": {"domain": [-1250, 197500], "nice": false, "zero": false}
            },
            "color": {"condition": {"test": "datum.c >= datum.o", "value": "#ff0000"}, "value": "#0000ff"}
          }
        },
        {
          "layer": [
            {
              "data": {"name": "k"},
              "mark": {"type": "rule", "strokeWidth": 1.2},
              "encoding": {
                "x": {"field": "t", "type": "temporal"},
                "y": {
                  "field": "l",
                  "type": "quantitative",
                  "axis": null,
                  "scale": {"domain": [4060, 5371], "nice": false, "zero": false}
                },
                "y2": {"field": "h"},
                "color": {"condition": {"test": "datum.c >= datum.o", "value": "#ff0000"}, "value": "#0000ff"}
              }
            },
            {
              "data": {"name": "k"},
              "mark": {"type": "bar", "width": 2, "strokeWidth": 0.8},
              "encoding": {
                "x": {"field": "t", "type": "temporal"},
                "y": {"field": "o", "type": "quantitative"},
                "y2": {"field": "c"},
                "color": {"condition": {"test": "datum.c >= datum.o", "value": "#ff0000"}, "value": "#0000ff"},
                "stroke": {"condition": {"test": "datum.c >= datum.o", "value": "#ff0000"}, "value": "#0000ff"}
              }
            },
            {
              "data": {"values": [{}]},
              "mark": {"type": "bar", "width": 4, "fill": "white", "stroke": "#555555", "strokeWidth": 1},
              "encoding": {
                "x": {"datum": {"year": 2022, "month": 11, "date": 2, "hours": 8, "minutes": 59, "seconds": 18}, "type": "temporal"},
                "y": {"datum": 5040, "type": "quantitative"},
                "y2": {"datum": 4390}
              }
            },
            {
              "data": {"values": [{}]},
              "mark": {"type": "bar", "width": 4, "fill": "white", "stroke": "#555555", "strokeWidth": 1},
              "encoding": {
                "x": {"datum": {"year": 2022, "month": 11, "date": 2, "hours": 15, "minutes": 30, "seconds": 42}, "type": "temporal"},
                "y": {"datum": 5040, "type": "quantitative"},
                "y2": {"datum": 4390}
              }
            }
          ]
        }
      ],
      "resolve": {"scale": {"y": "independent"}}
    }
  ],
  "spacing": 48,
  "bounds": "flush",
  "center": true
}
